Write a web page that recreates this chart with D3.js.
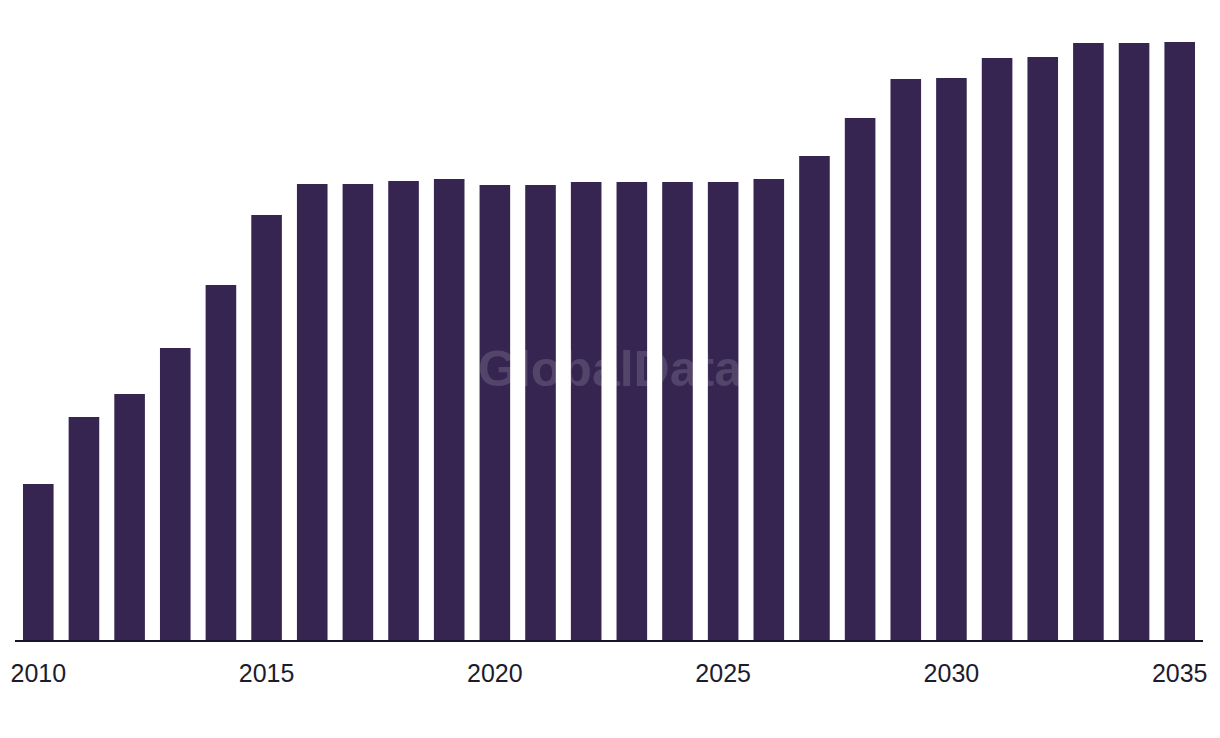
<!DOCTYPE html>
<html>
<head>
<meta charset="utf-8">
<script src="https://cdn.jsdelivr.net/npm/d3@7"></script>
<style>
  html, body { margin: 0; padding: 0; background: #ffffff; }
  svg { display: block; }
</style>
</head>
<body>
<svg id="chart" width="1220" height="738"></svg>
<script>
const years = [2010, 2011, 2012, 2013, 2014, 2015, 2016, 2017, 2018, 2019, 2020, 2021, 2022,
               2023, 2024, 2025, 2026, 2027, 2028, 2029, 2030, 2031, 2032, 2033, 2034, 2035];
const values = [157, 224, 247, 293, 356, 426, 457, 457, 460, 462, 456, 456, 459,
                459, 459, 459, 462, 485, 523, 562, 563, 583, 584, 598, 598, 599];
const tickYears = [2010, 2015, 2020, 2025, 2030, 2035];

(function () {
const svg = d3.select("#chart");
const mLeft = 15, mRight = 1203, baseline = 641, mTop = 41;

const x = d3.scaleBand()
  .domain(years)
  .range([mLeft, mRight])
  .paddingInner(0.33)
  .paddingOuter(0.175);

const y = d3.scaleLinear()
  .domain([0, 600])
  .range([baseline, mTop]);

svg.append("g")
  .selectAll("rect")
  .data(years.map((yr, i) => ({ yr, v: values[i] })))
  .join("rect")
  .attr("x", d => x(d.yr))
  .attr("y", d => y(d.v))
  .attr("width", x.bandwidth())
  .attr("height", d => y(0) - y(d.v))
  .attr("fill", "#362451");

// watermark
svg.append("text")
  .attr("x", 610)
  .attr("y", 386)
  .attr("text-anchor", "middle")
  .attr("font-family", "Liberation Sans, Arial, sans-serif")
  .attr("font-weight", "bold")
  .attr("font-size", 50)
  .attr("fill", "#ffffff")
  .attr("fill-opacity", 0.15)
  .text("GlobalData");

// x axis
const xAxis = d3.axisBottom(x)
  .tickValues(tickYears)
  .tickSize(0)
  .tickPadding(0)
  .tickFormat(d3.format("d"));

const gx = svg.append("g")
  .attr("transform", `translate(0,${baseline})`)
  .call(xAxis);

gx.select(".domain")
  .attr("d", `M${mLeft},0H${mRight}`)
  .attr("stroke", "#14142b")
  .attr("stroke-width", 2);

gx.selectAll(".tick text")
  .attr("dy", 0)
  .attr("y", 41)
  .attr("fill", "#1c1c2e")
  .attr("font-family", "Liberation Sans, Arial, sans-serif")
  .attr("font-size", 25);
})();
</script>
</body>
</html>
